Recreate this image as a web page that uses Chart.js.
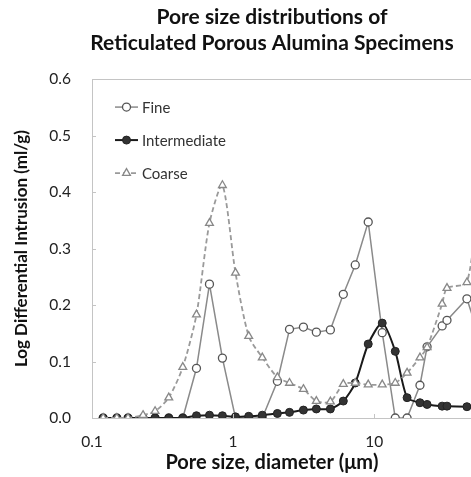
<!DOCTYPE html>
<html>
<head>
<meta charset="utf-8">
<script src="https://cdn.jsdelivr.net/npm/chart.js@4/dist/chart.umd.min.js"></script>
<style>
  html, body { margin: 0; padding: 0; overflow: hidden; background: #fff; }
  #wrap { width: 471px; height: 477px; overflow: hidden; }
</style>
</head>
<body>
<div id="wrap"><canvas id="chart" width="544" height="477"></canvas></div>
<script>
// pore diameters (µm) shared by the three specimens
const poreSizes = [0.12, 0.15, 0.18, 0.23, 0.28, 0.35, 0.44, 0.55, 0.68, 0.84,
  1.04, 1.29, 1.61, 2.06, 2.51, 3.15, 3.89, 4.89, 6.04, 7.34,
  9.07, 11.4, 14.1, 17.1, 21.1, 23.7, 30.3, 32.8, 45.4, 56.1];

const fine = [0, 0, 0, 0, 0, 0, 0, 0.088, 0.237, 0.106,
  0, 0, 0, 0.065, 0.157, 0.161, 0.152, 0.156, 0.219, 0.271,
  0.347, 0.151, 0, 0, 0.058, 0.126, 0.163, 0.173, 0.211, 0.14];

const intermediate = [0, 0, 0, 0, 0, 0, 0, 0.004, 0.005, 0.004,
  0.002, 0.003, 0.005, 0.008, 0.010, 0.014, 0.016, 0.016, 0.030, 0.062,
  0.131, 0.168, 0.118, 0.036, 0.027, 0.024, 0.021, 0.021, 0.020, 0.020];

const coarse = [0, 0, 0, 0.005, 0.012, 0.036, 0.090, 0.183, 0.345, 0.412,
  0.257, 0.145, 0.107, 0.072, 0.062, 0.051, 0.030, 0.029, 0.060, 0.062,
  0.059, 0.059, 0.062, 0.080, 0.107, 0.125, 0.202, 0.230, 0.240, 0.42];

const seriesNames = ['Fine', 'Intermediate', 'Coarse'];
const xTickValues = [0.1, 1, 10, 100];
const titleLines = ['Pore size distributions of', 'Reticulated Porous Alumina Specimens'];
const xTitle = 'Pore size, diameter (\u03bcm)';
const yTitle = 'Log Differential Intrusion (ml/g)';

const FONT = 'Lato';

function pts(values) {
  return poreSizes.map((x, i) => ({ x: x, y: values[i] }));
}

// small inward tick marks, legend inside the plot and centred x title
const extras = {
  id: 'extras',
  afterDraw(chart) {
    const ctx = chart.ctx;
    const area = chart.chartArea;
    const xs = chart.scales.x;
    const ys = chart.scales.y;
    ctx.save();
    ctx.strokeStyle = '#c4c4c4';
    ctx.lineWidth = 1;
    ys.ticks.forEach(t => {
      const py = Math.round(ys.getPixelForValue(t.value)) + 0.5;
      ctx.beginPath();
      ctx.moveTo(area.left, py);
      ctx.lineTo(area.left + 4, py);
      ctx.stroke();
    });
    xTickValues.forEach(v => {
      const px = Math.round(xs.getPixelForValue(v)) + 0.5;
      ctx.beginPath();
      ctx.moveTo(px, area.bottom);
      ctx.lineTo(px, area.bottom - 4);
      ctx.stroke();
    });

    // legend
    chart.data.datasets.forEach((ds, i) => {
      const y = area.top + 28 + i * 33;
      const x0 = area.left + 23;
      ctx.strokeStyle = ds.borderColor;
      ctx.lineWidth = ds.borderWidth;
      ctx.setLineDash(ds.borderDash || []);
      ctx.beginPath();
      ctx.moveTo(x0, y);
      ctx.lineTo(x0 + 23, y);
      ctx.stroke();
      ctx.setLineDash([]);
      ctx.fillStyle = ds.pointBackgroundColor;
      ctx.strokeStyle = ds.pointBorderColor;
      ctx.lineWidth = ds.pointBorderWidth;
      Chart.helpers.drawPoint(ctx, {
        pointStyle: ds.pointStyle,
        radius: ds.pointRadius,
        borderWidth: ds.pointBorderWidth
      }, x0 + 11.5, y);
      ctx.fillStyle = '#333';
      ctx.font = '15px ' + FONT;
      ctx.textBaseline = 'middle';
      ctx.textAlign = 'left';
      ctx.fillText(ds.label, x0 + 27, y + 1);
    });

    ctx.fillStyle = '#111';
    ctx.font = 'bold 20px ' + FONT;
    ctx.textAlign = 'center';
    ctx.textBaseline = 'middle';
    ctx.fillText(xTitle, chart.width / 2, 463);
    ctx.restore();
  }
};

const ctx = document.getElementById('chart').getContext('2d');
const chart = new Chart(ctx, {
  type: 'line',
  data: {
    datasets: [
      {
        label: seriesNames[0],
        data: pts(fine),
        borderColor: '#8a8a8a',
        borderWidth: 1.5,
        pointStyle: 'circle',
        pointRadius: 4,
        pointBorderWidth: 1.3,
        pointBackgroundColor: '#ffffff',
        pointBorderColor: '#555555',
        tension: 0,
        order: 3
      },
      {
        label: seriesNames[1],
        data: pts(intermediate),
        borderColor: '#1a1a1a',
        borderWidth: 2,
        pointStyle: 'circle',
        pointRadius: 4,
        pointBorderWidth: 1,
        pointBackgroundColor: '#333333',
        pointBorderColor: '#222222',
        tension: 0.25,
        order: 2
      },
      {
        label: seriesNames[2],
        data: pts(coarse),
        borderColor: '#9a9a9a',
        borderWidth: 1.8,
        borderDash: [5, 3],
        pointStyle: 'triangle',
        pointRadius: 4.5,
        pointBorderWidth: 1.3,
        pointBackgroundColor: '#ffffff',
        pointBorderColor: '#888888',
        tension: 0.25,
        order: 1
      }
    ]
  },
  options: {
    responsive: false,
    animation: false,
    devicePixelRatio: 1,
    layout: { padding: 0 },
    plugins: {
      legend: { display: false },
      tooltip: { enabled: false },
      title: {
        display: true,
        text: titleLines,
        color: '#111',
        font: { family: FONT, size: 21, weight: 'bold', lineHeight: 1.24 },
        padding: { top: 4, bottom: 23 }
      }
    },
    scales: {
      x: {
        type: 'logarithmic',
        min: 0.1,
        max: 129,
        afterBuildTicks(scale) {
          scale.ticks = xTickValues.map(v => ({ value: v }));
        },
        afterFit(scale) { scale.height = 59; },
        ticks: {
          color: '#222',
          font: { family: FONT, size: 15.5 },
          padding: 15,
          maxRotation: 0,
          callback: v => String(v)
        },
        grid: { drawOnChartArea: false, drawTicks: false },
        border: { color: '#c4c4c4', width: 1 }
      },
      y: {
        min: 0,
        max: 0.6,
        afterFit(scale) { scale.width = 92; },
        ticks: {
          stepSize: 0.1,
          color: '#222',
          font: { family: FONT, size: 15.5 },
          padding: 21,
          callback: v => v.toFixed(1)
        },
        grid: {
          drawTicks: false,
          color: c => (c.tick && Math.abs(c.tick.value - 0.6) < 1e-9) ? '#c4c4c4' : 'rgba(0,0,0,0)'
        },
        border: { color: '#c4c4c4', width: 1 },
        title: {
          display: true,
          text: yTitle,
          color: '#111',
          font: { family: FONT, size: 17, weight: 'bold' },
          padding: { top: 11, bottom: 0 }
        }
      }
    }
  },
  plugins: [extras]
});
</script>
</body>
</html>
